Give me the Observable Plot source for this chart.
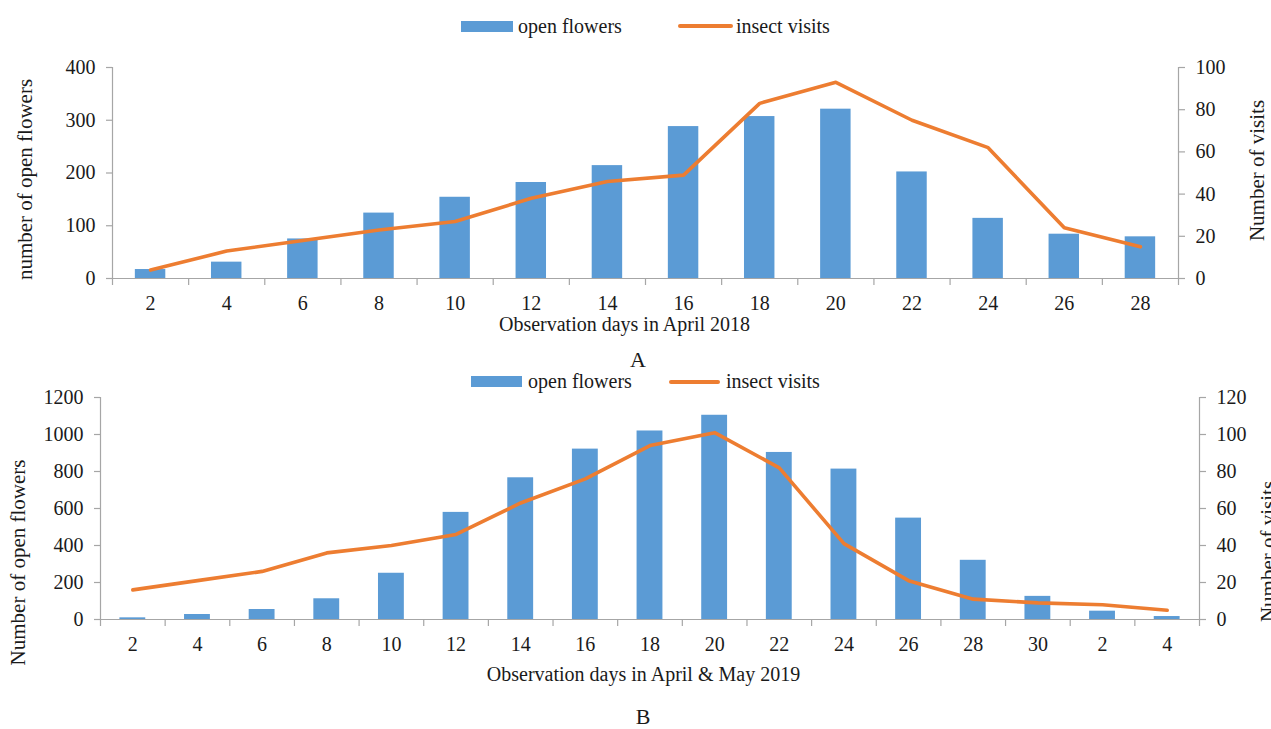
<!DOCTYPE html>
<html>
<head>
<meta charset="utf-8">
<script src="https://cdn.jsdelivr.net/npm/d3@7"></script>
<script src="https://cdn.jsdelivr.net/npm/@observablehq/plot@0.6"></script>
<style>
  body { margin: 0; background: #fff; }
  #root { position: relative; width: 1271px; height: 729px; overflow: hidden;
          font-family: "Liberation Serif", "Times New Roman", serif; color: #1a1a1a; background: #fff; }
  .abs { position: absolute; white-space: nowrap; }
  .leg { font-size: 20px; line-height: 20px; }
  .cap { font-size: 22px; line-height: 18px; transform: translateX(-50%); }
  svg text { font-family: "Liberation Serif", "Times New Roman", serif !important; font-variant-numeric: normal !important; }
</style>
</head>
<body>
<div id="root"></div>
<script>
// ---- Data ----
const daysA = ["2","4","6","8","10","12","14","16","18","20","22","24","26","28"];
const flowersA = [17, 31, 75, 124, 154, 182, 214, 288, 307, 321, 202, 114, 84, 79];
const visitsA = [4, 13, 18, 23, 27, 38, 46, 49, 83, 93, 75, 62, 24, 15];

const daysB = ["2","4","6","8","10","12","14","16","18","20","22","24","26","28","30","2","4"];
const flowersB = [9, 27, 54, 112, 250, 579, 766, 921, 1019, 1104, 903, 813, 548, 320, 125, 45, 16];
const visitsB = [16, 21, 26, 36, 40, 46, 63, 76, 94, 101, 82, 41, 21, 11, 9, 8, 5];

const leftTicksA = [0, 100, 200, 300, 400];
const rightTicksA = [0, 20, 40, 60, 80, 100];
const leftTicksB = [0, 200, 400, 600, 800, 1000, 1200];
const rightTicksB = [0, 20, 40, 60, 80, 100, 120];

const seriesNames = ["open flowers", "insect visits"];
const BAR = "#5b9bd5", LINE = "#ed7d31", AXIS = "#a6a6a6", INK = "#1a1a1a";
const FONT = '"Liberation Serif", "Times New Roman", serif';

const root = document.getElementById("root");

function el(cls, css, text) {
  const d = document.createElement("div");
  d.className = cls;
  Object.assign(d.style, css);
  if (text != null) d.textContent = text;
  root.appendChild(d);
  return d;
}

function legend(rect, textTop, text1Left, line, text2Left) {
  el("abs", {left: rect[0] + "px", top: rect[1] + "px", width: rect[2] + "px", height: rect[3] + "px", background: BAR});
  el("abs leg", {left: text1Left + "px", top: textTop + "px"}, seriesNames[0]);
  el("abs", {left: line[0] + "px", top: line[1] + "px", width: line[2] + "px", height: "4px", background: LINE, borderRadius: "2px"});
  el("abs leg", {left: text2Left + "px", top: textTop + "px"}, seriesNames[1]);
}

function panel(o) {
  const n = o.labels.length;
  const k = o.leftTicks[o.leftTicks.length - 1] / o.rightTicks[o.rightTicks.length - 1];
  const rows = o.labels.map((label, i) => ({i, label, flowers: o.flowers[i], visits: o.visits[i]}));
  const centers = rows.map(d => d.i + 0.5);
  const bounds = d3.range(n + 1);
  const txt = {fontFamily: FONT, fontSize: 20, fill: INK};
  return Plot.plot({
    width: 1271,
    height: o.height,
    marginTop: o.marginTop,
    marginBottom: o.marginBottom,
    marginLeft: o.marginLeft,
    marginRight: o.marginRight,
    style: {fontFamily: FONT, fontSize: "20px", color: INK, background: "transparent", overflow: "visible"},
    x: {domain: [0, n], axis: null},
    y: {domain: [0, o.leftTicks[o.leftTicks.length - 1]], axis: null},
    marks: [
      Plot.rectY(rows, {x1: d => d.i + 0.3, x2: d => d.i + 0.7, y1: 0, y2: "flowers", fill: BAR}),
      Plot.ruleY([0], {stroke: AXIS, strokeWidth: 1.2}),
      Plot.ruleX([0, n], {stroke: AXIS, strokeWidth: 1.2}),
      Plot.axisX({ticks: bounds, tickSize: 7, tickFormat: () => "", stroke: AXIS, strokeWidth: 1.2, label: null}),
      Plot.axisX({ticks: centers, tickSize: 0, tickPadding: 17, tickFormat: v => o.labels[Math.floor(v)], ...txt, label: null}),
      Plot.axisY({anchor: "left", ticks: o.leftTicks, tickFormat: v => String(v), tickSize: 6, tickPadding: 11,
                  stroke: AXIS, strokeWidth: 1.2, ...txt, label: null}),
      Plot.axisY({anchor: "right", ticks: o.rightTicks.map(t => t * k), tickFormat: v => String(Math.round(v / k)),
                  tickSize: 6, tickPadding: 11, stroke: AXIS, strokeWidth: 1.2, ...txt, label: null}),
      Plot.line(rows, {x: d => d.i + 0.5, y: d => d.visits * k, stroke: LINE, strokeWidth: 3.6,
                       strokeLinecap: "round", strokeLinejoin: "round"}),
      Plot.text([o.leftTitle], {frameAnchor: "left", textAnchor: "middle", rotate: -90, dx: o.lt[0], dy: o.lt[1], ...txt, fontSize: 21}),
      Plot.text([o.rightTitle], {frameAnchor: "right", textAnchor: "middle", rotate: -90, dx: o.rt[0], dy: o.rt[1], ...txt, fontSize: 21}),
      Plot.text([o.xTitle], {frameAnchor: "bottom", textAnchor: "middle", dx: o.xt[0], dy: o.xt[1], ...txt})
    ]
  });
}

// ---- Panel A ----
legend([461, 21, 52, 11], 16, 518, [678, 24, 55], 736);
const svgA = panel({
  labels: daysA, flowers: flowersA, visits: visitsA,
  leftTicks: leftTicksA, rightTicks: rightTicksA,
  height: 305, marginTop: 22, marginBottom: 72, marginLeft: 112, marginRight: 93,
  leftTitle: "number of open flowers", rightTitle: "Number of visits",
  xTitle: "Observation days in April 2018",
  lt: [-87.5, 6.5], rt: [79, -2.5], xt: [-21, 52]
});
el("abs", {left: "0px", top: "45px"}).appendChild(svgA);
el("abs cap", {left: "638px", top: "351px"}, "A");

// ---- Panel B ----
legend([471, 376, 51, 11], 371, 528, [669, 380, 51], 726);
const svgB = panel({
  labels: daysB, flowers: flowersB, visits: visitsB,
  leftTicks: leftTicksB, rightTicks: rightTicksB,
  height: 315, marginTop: 12, marginBottom: 81, marginLeft: 100, marginRight: 72,
  leftTitle: "Number of open flowers", rightTitle: "Number of visits",
  xTitle: "Observation days in April & May 2019",
  lt: [-82, 54], rt: [69, 43], xt: [-6.5, 61]
});
el("abs", {left: "0px", top: "385px"}).appendChild(svgB);
el("abs cap", {left: "643px", top: "708px"}, "B");
</script>
</body>
</html>
